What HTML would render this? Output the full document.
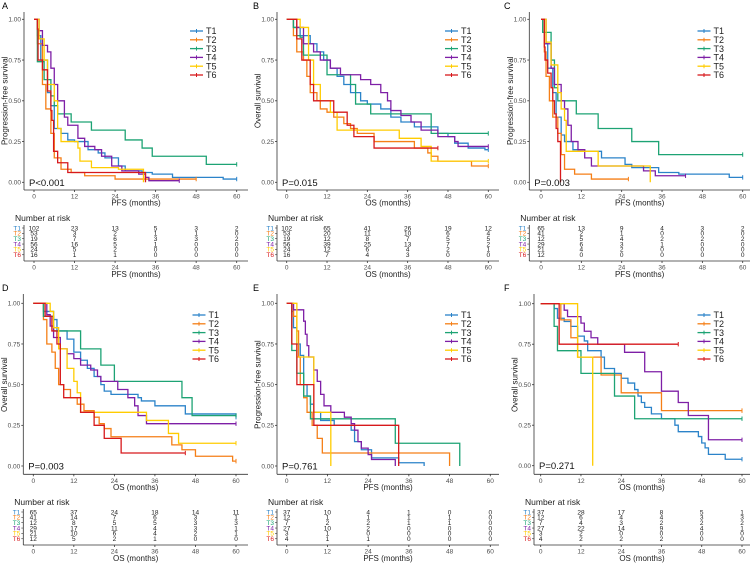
<!DOCTYPE html>
<html><head><meta charset="utf-8"><style>
html,body{margin:0;padding:0;background:#fff;}
svg{display:block;font-family:"Liberation Sans",Arial,sans-serif;}
</style></head><body>
<svg id="fig" width="753" height="564" viewBox="0 0 753 564" xmlns="http://www.w3.org/2000/svg"></svg>
<script>
const groups = ["T1","T2","T3","T4","T5","T6"];
const colors = ["#2B83C9","#F57F17","#1DA374","#7E1FA6","#FFCC00","#D7191C"];
const riskTimes = [0,12,24,36,48,60];
const yTicks = [0,0.25,0.5,0.75,1];
const yTickLabels = ["0.00","0.25","0.50","0.75","1.00"];

// survival curve data: [time, survival] step points per panel
const curvesA = [
 [[0,1],[1,0.9],[2,0.75],[4,0.55],[5,0.47],[6,0.33],[8,0.3],[10,0.26],[12,0.25],[16,0.2],[19,0.18],[21,0.15],[25,0.1],[27,0.07],[32,0.06],[35,0.05],[41,0.03],[56,0.02],[60,0.02]],
 [[0,1],[1,0.85],[2.5,0.6],[3.5,0.45],[5,0.3],[6,0.15],[8,0.08],[11,0.06],[15,0.04],[24,0.02],[48,0.02]],
 [[0,1],[1,0.74],[3,0.63],[5,0.53],[6,0.47],[7,0.42],[11,0.37],[17,0.32],[27,0.26],[32,0.21],[35,0.16],[51,0.11],[60,0.11]],
 [[0,1],[1.5,0.93],[2.5,0.84],[4,0.8],[5,0.7],[6,0.6],[7,0.5],[9,0.4],[10,0.35],[13,0.27],[15,0.22],[18,0.2],[20,0.16],[23,0.1],[26,0.07],[31,0.05],[33,0.03],[34,0.01],[43,0.01]],
 [[0,1],[1.5,0.88],[3,0.75],[4,0.6],[6,0.5],[7,0.33],[8,0.25],[13,0.21],[13.6,0.13],[17,0.09],[25,0.08],[32.4,0]],
 [[0,1],[1,0.94],[1.2,0.75],[2.5,0.69],[4,0.56],[5,0.44],[5.3,0.38],[5.8,0.19],[7,0.12],[10,0.06],[33,0]]
];
const curvesB = [
 [[0,1],[2,0.95],[4,0.9],[7,0.85],[9,0.8],[11,0.75],[13,0.7],[15,0.65],[17,0.6],[19,0.55],[22,0.5],[24,0.48],[28,0.45],[31,0.4],[34,0.37],[38,0.34],[45,0.3],[48,0.28],[50,0.24],[54,0.21],[59,0.2],[60,0.2]],
 [[0,1],[2,0.9],[3,0.8],[5,0.75],[6,0.65],[7,0.55],[9,0.5],[10,0.45],[12,0.43],[14,0.4],[17,0.36],[19,0.33],[21,0.3],[26,0.25],[38,0.21],[42,0.18],[43,0.16],[45,0.13],[55,0.1],[60,0.1]],
 [[0,1],[2,0.95],[3,0.9],[4,0.89],[5,0.78],[12,0.66],[19,0.6],[20.5,0.48],[25,0.42],[43,0.3],[60,0.3]],
 [[0,1],[3,0.95],[5,0.85],[8,0.8],[10,0.75],[13,0.7],[16,0.66],[22,0.63],[25,0.6],[28,0.55],[30,0.5],[31,0.44],[34,0.41],[37,0.37],[40,0.32],[45,0.28],[50,0.25],[51,0.22],[60,0.22]],
 [[0,1],[4,0.95],[6.5,0.75],[8,0.6],[10,0.5],[13,0.43],[15,0.32],[33.5,0.27],[40,0.22],[43,0.13],[60,0.13]],
 [[0,1],[3,0.88],[4.5,0.75],[7,0.6],[8,0.5],[14,0.43],[18,0.35],[20,0.28],[26,0.21],[45,0.21]]
];
const curvesC = [
 [[0,1],[1,0.85],[2,0.7],[3.5,0.55],[4.5,0.4],[6,0.29],[7,0.25],[9.5,0.2],[13,0.19],[18,0.15],[25,0.11],[27,0.09],[35,0.06],[41,0.05],[56,0.03],[60,0.03]],
 [[0,1],[1,0.8],[1.5,0.65],[2.5,0.5],[3.5,0.4],[5,0.3],[6,0.17],[7,0.08],[10,0.05],[15,0.02],[26,0.02]],
 [[0,1],[0.5,0.92],[3,0.75],[4,0.58],[5,0.5],[10.5,0.42],[17,0.33],[27,0.25],[35,0.17],[60,0.17]],
 [[0,1],[1.5,0.85],[3,0.7],[4,0.6],[6,0.5],[7,0.45],[8,0.35],[9,0.25],[11,0.2],[13,0.15],[15,0.1],[30.5,0.07],[34,0.04],[43,0.04]],
 [[0,1],[1.5,0.86],[3,0.72],[5,0.55],[6,0.45],[7,0.38],[7.5,0.19],[17,0.1],[32.5,0]],
 [[0,1],[1,0.83],[1.2,0.75],[2,0.67],[3,0.58],[3.5,0.5],[4,0.42],[4.5,0.33],[5,0.25],[5.8,0]]
];
const curvesD = [
 [[0,1],[3,0.95],[6,0.9],[7,0.83],[10,0.78],[12,0.7],[14,0.65],[16,0.6],[18,0.55],[20,0.5],[21,0.46],[23,0.44],[31,0.42],[32,0.4],[36,0.37],[45,0.32],[60,0.3]],
 [[0,1],[3,0.9],[4,0.75],[5.5,0.7],[6.5,0.6],[7.5,0.5],[9,0.47],[11,0.42],[13,0.38],[15,0.34],[18,0.3],[19.5,0.26],[21,0.23],[23,0.18],[41,0.13],[44,0.1],[48,0.06],[59,0.03],[60,0.03]],
 [[0,1],[3,0.92],[6,0.83],[14,0.72],[20,0.62],[24,0.52],[44,0.42],[47,0.31],[60,0.31]],
 [[0,1],[4,0.93],[5,0.86],[6,0.79],[8,0.72],[10,0.69],[12,0.66],[14,0.62],[17,0.59],[19,0.55],[20,0.52],[25,0.47],[28,0.42],[30,0.37],[31,0.31],[33.5,0.26],[60,0.26]],
 [[0,1],[5,0.95],[6,0.85],[7.5,0.72],[10,0.6],[12,0.52],[13,0.45],[14,0.33],[33.5,0.28],[40,0.2],[43,0.14],[60,0.14]],
 [[0,1],[3.5,0.92],[5.5,0.83],[7,0.75],[8,0.5],[9,0.42],[14,0.33],[18,0.25],[21,0.17],[26,0.08],[45,0.08]]
];
const curvesE = [
 [[0,1],[1.5,0.95],[2,0.85],[3,0.75],[4,0.68],[5,0.5],[6,0.43],[7,0.38],[8,0.33],[10,0.28],[14,0.25],[19,0.22],[20,0.15],[22,0.1],[25,0.05],[33,0.02],[40.5,0]],
 [[0,1],[2,0.92],[3,0.83],[3.5,0.67],[4,0.5],[5,0.42],[6,0.33],[7.5,0.25],[9,0.17],[10.5,0.08],[48,0]],
 [[0,1],[1.5,0.71],[3,0.57],[5,0.43],[7,0.29],[32,0.14],[51,0]],
 [[0,1],[2,0.96],[5,0.89],[5.5,0.81],[6,0.74],[6.5,0.67],[8,0.59],[9,0.52],[10,0.44],[11,0.37],[13,0.33],[17,0.3],[19,0.26],[20,0.22],[21,0.15],[22,0.11],[24,0.07],[25,0.04],[32,0]],
 [[0,1],[3,0.67],[8,0.33],[13,0]],
 [[0,1],[1.5,0.75],[3,0.5],[8,0.25],[33,0]]
];
const curvesF = [
 [[0,1],[4,0.97],[5,0.91],[7,0.89],[9,0.86],[11,0.8],[13,0.77],[14,0.71],[18,0.67],[19,0.6],[22,0.57],[24,0.54],[26,0.51],[28,0.47],[29,0.43],[30,0.39],[31,0.36],[33,0.32],[36,0.29],[40,0.25],[41,0.21],[47,0.18],[48,0.14],[49,0.11],[50,0.07],[55,0.04],[60,0.04]],
 [[0,1],[6,0.9],[9,0.79],[11,0.67],[18,0.56],[24,0.45],[36,0.34],[60,0.34]],
 [[0,1],[4,0.86],[5,0.71],[12,0.57],[22,0.43],[28,0.29],[60,0.29]],
 [[0,1],[7,0.96],[8,0.92],[12,0.88],[13,0.83],[15,0.79],[17,0.75],[25,0.7],[31,0.58],[36,0.46],[41,0.39],[44,0.31],[50,0.16],[60,0.16]],
 [[0,1],[11,0.67],[15.5,0]],
 [[0,1],[5.5,0.75],[41,0.75]]
];

// number at risk tables
const riskA = [[102,23,13,5,3,2],[53,3,2,1,1,0],[19,7,6,3,3,2],[56,16,5,1,0,0],[24,5,2,0,0,0],[16,1,1,0,0,0]];
const riskB = [[102,65,41,26,19,12],[53,20,11,10,6,4],[19,12,8,7,5,5],[56,39,25,13,7,2],[24,12,6,4,2,1],[16,7,4,3,0,0]];
const riskC = [[65,13,9,4,3,2],[41,2,1,0,0,0],[12,5,4,2,2,2],[29,6,3,1,0,0],[21,4,2,0,0,0],[12,0,0,0,0,0]];
const riskD = [[65,37,24,18,14,11],[41,14,7,6,3,1],[12,8,5,5,3,3],[29,17,11,4,3,1],[21,10,6,4,2,1],[12,5,2,1,0,0]];
const riskE = [[37,10,4,1,0,0],[12,1,1,1,1,0],[7,2,2,1,1,0],[27,10,2,0,0,0],[3,1,0,0,0,0],[4,1,1,0,0,0]];
const riskF = [[37,28,17,8,5,1],[12,6,4,4,3,3],[7,4,3,2,2,2],[27,22,14,9,4,1],[3,2,0,0,0,0],[4,2,2,2,0,0]];

const panelLetters = ["A","B","C","D","E","F"];
const panelYTitles = ["Progression-free survival","Overall survival","Progression-free survival","Overall survival","Progression-free survival","Overall survival"];
const panelXTitles = ["PFS (months)","OS (months)","PFS (months)","OS (months)","PFS (months)","OS (months)"];
const panelPvals = ["P<0.001","P=0.015","P=0.003","P=0.003","P=0.761","P=0.271"];
const panelCurves = [curvesA,curvesB,curvesC,curvesD,curvesE,curvesF];
const panelRisk = [riskA,riskB,riskC,riskD,riskE,riskF];

// layout (geometry, not data)
const layouts = [
 {ox:0,ox2:0,oy:0,axL:24,x0:34,x60:236.7,y1:19.3,y0:182.3,axY:190,legX:190,legY:31,rb:228},
 {ox:251,oy:0,axL:26,x0:35.7,x60:237.3,y1:19.3,y0:182.3,axY:190,legX:194,legY:31,rb:228},
 {ox:502,oy:0,axL:27.3,x0:39,x60:240.7,y1:19.3,y0:182.3,axY:190,legX:195.5,legY:31,rb:228},
 {ox:0,oy:282,axL:23.3,x0:33.3,x60:236,y1:21.3,y0:184,axY:192.3,legX:192.5,legY:33,rb:230},
 {ox:251,oy:282,axL:26,x0:35.7,x60:239.3,y1:21.3,y0:184,axY:192.3,legX:194,legY:33,rb:230},
 {ox:502,oy:282,axL:32,x0:38.7,x60:240,y1:21.7,y0:183.7,axY:192.3,legX:195.5,legY:33,rb:230}
];

const NS = "http://www.w3.org/2000/svg";
const fig = document.getElementById("fig");
function mk(tag, attrs, parent, text){
  const e = document.createElementNS(NS, tag);
  for (const k in attrs) e.setAttribute(k, attrs[k]);
  if (text !== undefined) e.textContent = text;
  parent.appendChild(e);
  return e;
}

panelLetters.forEach((letter, p) => {
  const L = layouts[p];
  const g = mk("g", {transform:`translate(${L.ox},${L.oy})`}, fig);
  
  
  const xs = t => L.x0 + (L.x60 - L.x0) * t / 60;
  const ys = s => L.y0 - (L.y0 - L.y1) * s;

  const lt = mk("text", {x:2, y:9, "font-size":9, fill:"#000"}, g, letter);
  
  

  // axes
  const ax = mk("g", {stroke:"#333", "stroke-width":0.8, fill:"none"}, g);
  
  
  mk("line", {x1:L.axL, y1:12, x2:L.axL, y2:L.axY}, ax);
  mk("line", {x1:L.axL, y1:L.axY, x2:248, y2:L.axY}, ax);
  yTicks.forEach((v,i) => {
    mk("line", {x1:L.axL-2, y1:ys(v), x2:L.axL, y2:ys(v)}, ax);
    const t = mk("text", {x:L.axL-3, y:ys(v)+2.3, "font-size":6.5, fill:"#4d4d4d", "text-anchor":"end", stroke:"none"}, g, yTickLabels[i]);
    
    
  });
  riskTimes.forEach(tm => {
    mk("line", {x1:xs(tm), y1:L.axY, x2:xs(tm), y2:L.axY+2}, ax);
    const t = mk("text", {x:xs(tm), y:L.axY+8.5, "font-size":6.5, fill:"#4d4d4d", "text-anchor":"middle"}, g, String(tm));
    
    
  });
  const xt = mk("text", {x:(L.axL+248)/2, y:L.axY+15.5, "font-size":8, fill:"#222", "text-anchor":"middle"}, g, panelXTitles[p]);
  
  
  const cy = (L.y0 + L.y1)/2;
  const yt = mk("text", {x:0, y:0, "font-size":8, fill:"#222", "text-anchor":"middle", transform:`translate(${L.axL-16.5},${cy}) rotate(-90)`}, g, panelYTitles[p]);
  
  

  // curves
  panelCurves[p].forEach((pts, si) => {
    let d = `M${xs(pts[0][0])},${ys(pts[0][1])}`;
    for (let i=1;i<pts.length;i++){
      d += ` H${xs(pts[i][0])} V${ys(pts[i][1])}`;
    }
    const path = mk("path", {d, fill:"none", stroke:colors[si], "stroke-width":1.3}, g);
    
    
    const last = pts[pts.length-1];
    if (last[1] > 0) {
      const c = mk("line", {x1:xs(last[0]), y1:ys(last[1])-2.2, x2:xs(last[0]), y2:ys(last[1])+2.2, stroke:colors[si], "stroke-width":1}, g);
      
      
    }
  });

  // p-value
  const pv = mk("text", {x:L.axL+5, y:L.y0+3.5, "font-size":9.5, fill:"#111"}, g, panelPvals[p]);
  
  

  // legend
  groups.forEach((gname, si) => {
    const yy = L.legY + si*8.8;
    const lg = mk("g", {}, g);
    
    
    mk("line", {x1:L.legX, y1:yy, x2:L.legX+13, y2:yy, stroke:colors[si], "stroke-width":1.3}, lg);
    mk("line", {x1:L.legX+6.5, y1:yy-2, x2:L.legX+6.5, y2:yy+2, stroke:colors[si], "stroke-width":1}, lg);
    mk("text", {x:L.legX+16, y:yy+3.2, "font-size":9, fill:"#222"}, lg, gname);
  });

  // risk table
  const rb = L.rb;
  const nr = mk("text", {x:L.axL-9, y:rb-7, "font-size":8.5, fill:"#222"}, g, "Number at risk");
  
  
  const rt = mk("g", {}, g);
  
  
  panelRisk[p].forEach((row, si) => {
    const yy = rb + si*5.35;
    mk("text", {x:L.axL-3, y:yy+2.3, "font-size":6.5, fill:colors[si], "text-anchor":"end"}, rt, groups[si]);
    mk("line", {x1:L.axL-2, y1:yy, x2:L.axL, y2:yy, stroke:"#333", "stroke-width":0.6}, rt);
    row.forEach((n, k) => {
      mk("text", {x:xs(riskTimes[k]), y:yy+2.3, "font-size":6.5, fill:"#222", "text-anchor":"middle"}, rt, String(n));
    });
  });
  const tY = rb + 33;
  mk("line", {x1:L.axL, y1:rb-3, x2:L.axL, y2:tY, stroke:"#333", "stroke-width":0.8}, rt);
  mk("line", {x1:L.axL, y1:tY, x2:248, y2:tY, stroke:"#333", "stroke-width":0.8}, rt);
  riskTimes.forEach(tm => {
    mk("line", {x1:xs(tm), y1:tY, x2:xs(tm), y2:tY+2, stroke:"#333", "stroke-width":0.8}, rt);
    mk("text", {x:xs(tm), y:tY+8.5, "font-size":6.5, fill:"#4d4d4d", "text-anchor":"middle"}, rt, String(tm));
  });
  mk("text", {x:(L.axL+248)/2, y:tY+16, "font-size":8, fill:"#222", "text-anchor":"middle"}, rt, panelXTitles[p]);
});
</script>
</body></html>
